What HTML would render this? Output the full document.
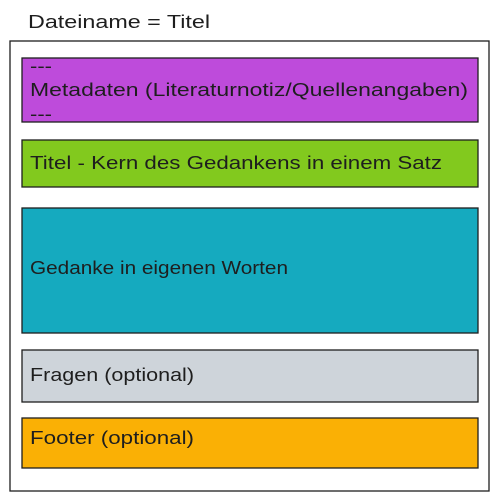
<!DOCTYPE html>
<html><head><meta charset="utf-8"><style>html,body{margin:0;padding:0;background:#fff;}svg{display:block}</style></head>
<body>
<svg width="502" height="501" xmlns="http://www.w3.org/2000/svg" font-family="Liberation Sans, sans-serif" font-size="18" fill="#1e1e1e">
<rect width="502" height="501" fill="#fff"/>
<text x="28" y="28" textLength="182" lengthAdjust="spacingAndGlyphs">Dateiname = Titel</text>
<rect x="10" y="41" width="479" height="450" fill="none" stroke="#1e1e1e" stroke-width="1.3"/>
<rect x="22" y="58" width="456" height="64" fill="#be4bdb" stroke="#1e1e1e" stroke-width="1.3"/>
<text x="30" y="72" textLength="22" lengthAdjust="spacingAndGlyphs">---</text>
<text x="30" y="96" textLength="438" lengthAdjust="spacingAndGlyphs">Metadaten (Literaturnotiz/Quellenangaben)</text>
<text x="30" y="120" textLength="22" lengthAdjust="spacingAndGlyphs">---</text>
<rect x="22" y="140" width="456" height="47" fill="#82c91e" stroke="#1e1e1e" stroke-width="1.3"/>
<text x="30" y="169" textLength="412" lengthAdjust="spacingAndGlyphs">Titel - Kern des Gedankens in einem Satz</text>
<rect x="22" y="208" width="456" height="125" fill="#15aabf" stroke="#1e1e1e" stroke-width="1.3"/>
<text x="30" y="274" textLength="258" lengthAdjust="spacingAndGlyphs">Gedanke in eigenen Worten</text>
<rect x="22" y="350" width="456" height="52" fill="#ced4da" stroke="#1e1e1e" stroke-width="1.3"/>
<text x="30" y="381" textLength="164" lengthAdjust="spacingAndGlyphs">Fragen (optional)</text>
<rect x="22" y="418" width="456" height="50" fill="#fab005" stroke="#1e1e1e" stroke-width="1.3"/>
<text x="30" y="444" textLength="164" lengthAdjust="spacingAndGlyphs">Footer (optional)</text>
</svg>
</body></html>
